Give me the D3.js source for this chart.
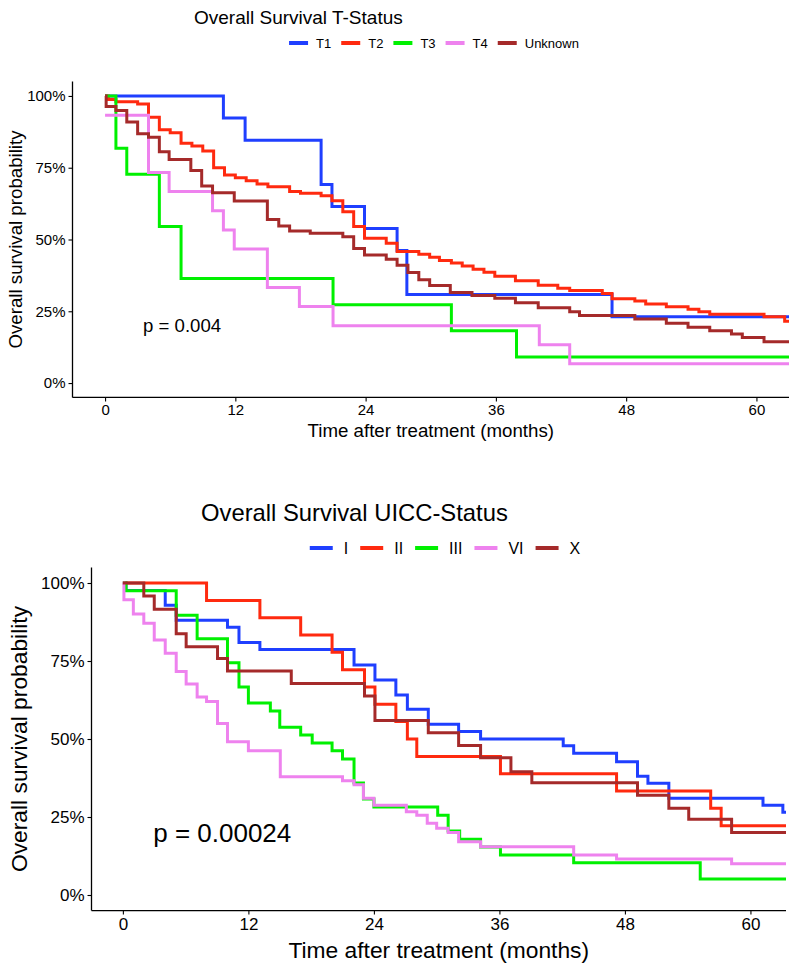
<!DOCTYPE html>
<html>
<head>
<meta charset="utf-8">
<script src="https://cdn.jsdelivr.net/npm/d3@7"></script>
<style>
  body { margin: 0; background: #fff; }
  text { font-family: "Liberation Sans", Arial, sans-serif; fill: #000; }
</style>
</head>
<body>
<script>
// ---- data: Kaplan-Meier step points [months, survival] ----
const tLabels = ["T1", "T2", "T3", "T4", "Unknown"];
const uiccLabels = ["I", "II", "III", "VI", "X"];
const colors = ["#1f3fff", "#ff2a0f", "#00f000", "#ee82ee", "#a52a2a"];
const xTicks = [0, 12, 24, 36, 48, 60];
const yTicks = [0, 0.25, 0.5, 0.75, 1];

const curveT1 = [[0,1],[10.9,.923],[12.9,.846],[19.9,.692],[20.9,.615],[23.9,.538],[26.9,.462],[27.8,.308],[46.7,.231],[63,.231]];
const curveT2 = [[0,1],[0.3,.988],[1,.98],[3,.972],[4,.926],[5,.882],[6,.872],[7,.835],[8,.826],[9,.808],[10,.75],[11,.725],[12,.715],[13,.705],[14,.693],[15,.684],[17,.667],[18,.661],[19.9,.652],[20.9,.635],[21.9,.597],[22.9,.545],[23.9,.504],[25.9,.487],[26.9,.458],[28.9,.449],[29.9,.438],[30.8,.427],[31.9,.418],[32.9,.408],[33.9,.396],[34.9,.386],[35.9,.372],[37.8,.356],[39.9,.341],[41.7,.33],[42.8,.322],[45.8,.312],[46.7,.294],[48.8,.286],[49.8,.275],[51.7,.266],[53.7,.257],[54.7,.248],[55.7,.24],[60.7,.231],[62.6,.215],[63,.215]];
const curveT3 = [[0,1],[1,.818],[2,.727],[5,.545],[7,.364],[21,.273],[31.9,.182],[37.9,.091],[63,.091]];
const curveT4 = [[0,.933],[4,.733],[5.9,.667],[9.9,.6],[10.9,.533],[11.9,.467],[14.95,.333],[17.9,.267],[21,.2],[40,.133],[42.8,.067],[63,.067]];
const curveTUnknown = [[0,1],[0.1,.963],[1,.949],[2,.909],[3,.868],[4,.856],[5,.806],[5.9,.779],[7.9,.74],[8.9,.686],[9.9,.663],[11.9,.634],[14.95,.57],[16,.547],[17,.53],[18.9,.522],[21.9,.51],[22.9,.469],[23.9,.446],[25.9,.431],[26.9,.41],[27.9,.385],[28.9,.36],[29.9,.34],[31.8,.315],[33.8,.305],[35.9,.295],[37.8,.28],[39.9,.262],[42.8,.248],[43.7,.235],[48.8,.223],[51.7,.208],[53.7,.194],[55.7,.182],[57.7,.171],[58.7,.159],[60.7,.144],[63,.144]];

const curveI = [[0,1],[0.3,.976],[4.05,.929],[5.1,.881],[10,.858],[11.1,.809],[13.1,.787],[22.1,.737],[24.1,.689],[26.1,.641],[27.2,.595],[29.2,.547],[32.1,.524],[34.2,.5],[42.1,.478],[43.1,.454],[47.2,.427],[49.2,.381],[50.2,.358],[52.2,.31],[61.2,.288],[63.1,.265],[63.4,.265]];
const curveII = [[0,1],[8,.944],[13.1,.889],[17,.833],[20,.778],[21,.722],[23.1,.667],[24.1,.611],[26.1,.556],[27.2,.5],[28.1,.444],[36.1,.389],[47.2,.333],[56.2,.278],[57.2,.222],[63.4,.222]];
const curveIII = [[0,1],[0.3,.975],[5.1,.897],[7.1,.821],[10,.744],[11.1,.667],[12,.615],[14.1,.59],[15,.538],[17,.513],[18.1,.487],[20,.462],[21,.436],[22.1,.359],[23,.308],[24,.282],[30.1,.256],[31.1,.205],[32.2,.179],[34.2,.154],[36.1,.128],[43.1,.103],[55.2,.051],[63.4,.051]];
const curveVI = [[0,1],[0.1,.946],[1,.901],[2,.871],[3,.817],[4.05,.775],[5.1,.716],[6.05,.676],[7.1,.635],[8,.62],[9.05,.55],[10,.491],[12,.462],[15.05,.379],[21,.366],[22.1,.353],[23,.31],[24,.288],[27.1,.267],[28.1,.256],[29.1,.23],[30,.214],[31.1,.2],[32.1,.171],[34.2,.155],[43.1,.128],[47.2,.115],[58.2,.1],[63.4,.1]];
const curveX = [[0,1],[2,.958],[3,.916],[5.1,.837],[6.05,.796],[9.05,.758],[10,.718],[16.1,.678],[23.1,.638],[24.1,.559],[29.2,.52],[32.1,.479],[34.2,.44],[37.1,.395],[39.1,.36],[49.2,.32],[52.2,.278],[54.1,.243],[58.2,.2],[63.4,.2]];

const pvalTop = {text: "p = 0.004", t: 3.5, s: 0.2};
const pvalBottom = {text: "p = 0.00024", t: 2.9, s: 0.2};

const width = 789, height = 968;

const svg = d3.select("body").append("svg")
    .attr("width", width)
    .attr("height", height);

const panels = [
  {
    id: "top",
    title: "Overall Survival T-Status", titleX: 194, titleY: 24, titleSize: 19,
    labels: tLabels, curves: [curveT1, curveT2, curveT3, curveT4, curveTUnknown],
    legendY: 43, legendCx: 434, legendSize: 13, keyW: 19, keyGap: 8, itemGap: 10,
    box: {left: 72.5, right: 789, top: 81.6, bottom: 397.4}, xDomain: [-3, 63],
    tickSize: 15, axisTitleSize: 18.7, xTitleY: 437, yTitleX: 22,
    pval: pvalTop, pSize: 18.6
  },
  {
    id: "bottom",
    title: "Overall Survival UICC-Status", titleX: 201, titleY: 521, titleSize: 23.8,
    labels: uiccLabels, curves: [curveI, curveII, curveIII, curveVI, curveX],
    legendY: 548, legendCx: 445, legendSize: 16, keyW: 23, keyGap: 11, itemGap: 12,
    box: {left: 91.5, right: 786, top: 567.4, bottom: 910.6}, xDomain: [-3, 63.4],
    tickSize: 17, axisTitleSize: 22.8, xTitleY: 958, yTitleX: 27,
    pval: pvalBottom, pSize: 26
  }
];

panels.forEach(p => {
  const g = svg.append("g").attr("class", "panel-" + p.id);
  const b = p.box;

  const xScale = d3.scaleLinear().domain(p.xDomain).range([b.left, b.right]);
  const yScale = d3.scaleLinear().domain([-0.05, 1.05]).range([b.bottom, b.top]);

  // title
  g.append("text")
    .attr("x", p.titleX)
    .attr("y", p.titleY)
    .style("font-size", p.titleSize + "px")
    .text(p.title);

  // legend
  const legend = g.append("g").attr("class", "legend");
  let cursor = 0;
  p.labels.forEach((lab, i) => {
    legend.append("line")
      .attr("x1", cursor).attr("x2", cursor + p.keyW)
      .attr("y1", 0).attr("y2", 0)
      .attr("stroke", colors[i])
      .attr("stroke-width", 4);
    const t = legend.append("text")
      .attr("x", cursor + p.keyW + p.keyGap)
      .attr("y", 0)
      .attr("dy", "0.36em")
      .style("font-size", p.legendSize + "px")
      .text(lab);
    cursor += p.keyW + p.keyGap + t.node().getComputedTextLength() + p.itemGap;
  });
  cursor -= p.itemGap;
  legend.attr("transform", `translate(${p.legendCx - cursor / 2},${p.legendY})`);

  // clip
  g.append("clipPath").attr("id", "clip-" + p.id)
    .append("rect")
      .attr("x", b.left).attr("y", b.top)
      .attr("width", b.right - b.left).attr("height", b.bottom - b.top);

  const line = d3.line()
    .curve(d3.curveStepAfter)
    .x(d => xScale(d[0]))
    .y(d => yScale(d[1]));

  g.append("g")
    .attr("clip-path", `url(#clip-${p.id})`)
    .selectAll("path")
    .data(p.curves)
    .join("path")
      .attr("fill", "none")
      .attr("stroke", (_, i) => colors[i])
      .attr("stroke-width", 3)
      .attr("d", d => line(d));

  // axes
  const xAxis = g.append("g")
    .attr("transform", `translate(0,${b.bottom})`)
    .call(d3.axisBottom(xScale).tickValues(xTicks).tickSize(4).tickPadding(3));
  const yAxis = g.append("g")
    .attr("transform", `translate(${b.left},0)`)
    .call(d3.axisLeft(yScale).tickValues(yTicks).tickFormat(d => Math.round(d * 100) + "%").tickSize(4).tickPadding(3));

  [xAxis, yAxis].forEach(ax => {
    ax.select(".domain").remove();
    ax.selectAll(".tick line").attr("stroke", "#000").attr("stroke-width", 1.1);
    ax.selectAll(".tick text")
      .attr("fill", "#000")
      .style("font-family", '"Liberation Sans", Arial, sans-serif')
      .style("font-size", p.tickSize + "px");
  });
  g.append("line")
    .attr("x1", b.left).attr("x2", b.right)
    .attr("y1", b.bottom).attr("y2", b.bottom)
    .attr("stroke", "#000").attr("stroke-width", 1.3);
  g.append("line")
    .attr("x1", b.left).attr("x2", b.left)
    .attr("y1", b.top).attr("y2", b.bottom)
    .attr("stroke", "#000").attr("stroke-width", 1.3);

  // axis titles
  g.append("text")
    .attr("text-anchor", "middle")
    .attr("x", (b.left + b.right) / 2)
    .attr("y", p.xTitleY)
    .style("font-size", p.axisTitleSize + "px")
    .text("Time after treatment (months)");

  g.append("text")
    .attr("text-anchor", "middle")
    .attr("transform", `translate(${p.yTitleX},${(b.top + b.bottom) / 2}) rotate(-90)`)
    .style("font-size", p.axisTitleSize + "px")
    .text("Overall survival probability");

  // p-value
  g.append("text")
    .attr("x", xScale(p.pval.t))
    .attr("y", yScale(p.pval.s))
    .attr("dy", "0.36em")
    .style("font-size", p.pSize + "px")
    .text(p.pval.text);
});
</script>
</body>
</html>
